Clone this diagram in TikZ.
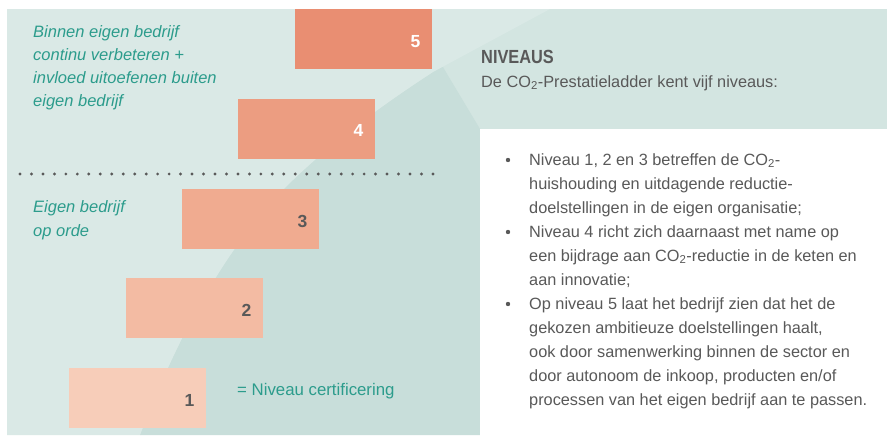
\documentclass[tikz,border=0pt]{standalone}
\usepackage{fontspec}
\setmainfont{Liberation Sans}
\newfontfamily\condfont[FakeStretch=0.86]{Liberation Sans}
\definecolor{bgmid}{HTML}{D3E5E1}
\definecolor{bglight}{HTML}{DAE9E6}
\definecolor{bgdark}{HTML}{C8DEDA}
\definecolor{lvfive}{HTML}{E98E72}
\definecolor{lvfour}{HTML}{EC9D81}
\definecolor{lvthree}{HTML}{F0AB90}
\definecolor{lvtwo}{HTML}{F3BBA3}
\definecolor{lvone}{HTML}{F7CDB9}
\definecolor{tealtxt}{HTML}{2C9C8C}
\definecolor{graytxt}{HTML}{595959}
\tikzset{
  lvl/.style={draw=none, minimum width=137pt, minimum height=60pt, inner sep=0pt, anchor=north west},
  num/.style={font=\fontsize{17.5}{18}\selectfont\bfseries, inner sep=0pt, anchor=center},
  lefttxt/.style={font=\fontsize{16.5}{23}\selectfont\itshape, text=tealtxt, inner sep=0pt, anchor=base west},
  body/.style={font=\fontsize{16.3}{24}\selectfont, text=graytxt, inner sep=0pt, anchor=base west},
  bul/.style={circle, fill=graytxt, inner sep=0pt, minimum size=4.4pt},
  dotc/.style={circle, fill=graytxt, inner sep=0pt, minimum size=3.2pt}
}
\begin{document}
\begin{tikzpicture}[x=1pt,y=-1pt]
\useasboundingbox (0,0) rectangle (887,439);
\fill[white] (0,0) rectangle (887,439);
% background
\fill[bgmid] (7,9) rectangle (887,435);
\fill[bgdark] (410,12) -- (480,129) -- (480,435) -- (140,435)
   .. controls (180,330) and (230,240) .. (293,180)
   .. controls (340,135) and (390,100) .. (433,72) -- cycle;
\fill[bglight] (7,9) -- (550,9) -- (433,72)
   .. controls (390,100) and (340,135) .. (293,180)
   .. controls (230,240) and (180,330) .. (140,435) -- (7,435) -- cycle;
\fill[white] (480,129) rectangle (887,439);
% level boxes
\node[lvl, fill=lvfive]  (b5) at (295,9)   {};
\node[lvl, fill=lvfour]  (b4) at (238,99)  {};
\node[lvl, fill=lvthree] (b3) at (182,189) {};
\node[lvl, fill=lvtwo]   (b2) at (126,278) {};
\node[lvl, fill=lvone]   (b1) at (69,368)  {};
\node[num, text=white]   (n5) at ([xshift=-17pt,yshift=-2pt]b5.east) {5};
\node[num, text=white]   (n4) at ([xshift=-17pt,yshift=-1pt]b4.east) {4};
\node[num, text=graytxt] (n3) at ([xshift=-17pt,yshift=-2pt]b3.east) {3};
\node[num, text=graytxt] (n2) at ([xshift=-17pt,yshift=-2pt]b2.east) {2};
\node[num, text=graytxt] (n1) at ([xshift=-17pt,yshift=-2pt]b1.east) {1};
% dotted separator
\foreach \i in {0,...,36} {
  \node[dotc] (d\i) at (20+\i*11.47,174) {};
}
% left texts
\node[lefttxt] (t1) at (33,37.5)  {Binnen eigen bedrijf};
\node[lefttxt] (t2) at (33,60.5)  {continu verbeteren +};
\node[lefttxt] (t3) at (33,83.5)  {invloed uitoefenen buiten};
\node[lefttxt] (t4) at (33,106.5) {eigen bedrijf};
\node[lefttxt] (t5) at (33,212)   {Eigen bedrijf};
\node[lefttxt] (t6) at (33,236)   {op orde};
\node[lefttxt, font=\fontsize{16.8}{20}\selectfont] (cert) at (237,395) {= Niveau certificering};
% right texts
\node[inner sep=0pt, anchor=base west, text=graytxt, font=\condfont\fontsize{19}{20}\selectfont\bfseries] (head) at (481,63) {NIVEAUS};
\node[body] (intro) at (481,87) {De CO\textsubscript{2}-Prestatieladder kent vijf niveaus:};
\node[bul] (u1) at (508,160) {};
\node[bul] (u2) at (508,232) {};
\node[bul] (u3) at (508,304) {};
\node[body] (l1)  at (529,165) {Niveau 1, 2 en 3 betreffen de CO\textsubscript{2}-};
\node[body] (l2)  at (529,189) {huishouding en uitdagende reductie-};
\node[body] (l3)  at (529,213) {doelstellingen in de eigen organisatie;};
\node[body] (l4)  at (529,237) {Niveau 4 richt zich daarnaast met name op};
\node[body] (l5)  at (529,261) {een bijdrage aan CO\textsubscript{2}-reductie in de keten en};
\node[body] (l6)  at (529,285) {aan innovatie;};
\node[body] (l7)  at (529,309) {Op niveau 5 laat het bedrijf zien dat het de};
\node[body] (l8)  at (529,333) {gekozen ambitieuze doelstellingen haalt,};
\node[body] (l9)  at (529,357) {ook door samenwerking binnen de sector en};
\node[body] (l10) at (529,381) {door autonoom de inkoop, producten en/of};
\node[body] (l11) at (529,405) {processen van het eigen bedrijf aan te passen.};
\end{tikzpicture}
\end{document}
